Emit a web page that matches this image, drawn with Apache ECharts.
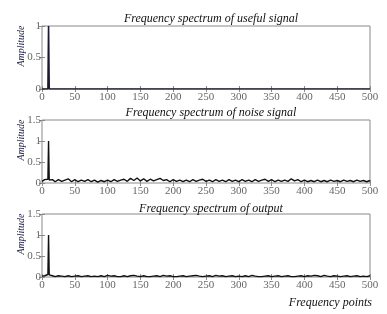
<!DOCTYPE html>
<html>
<head>
<meta charset="utf-8">
<script src="https://cdn.jsdelivr.net/npm/echarts@6/dist/echarts.min.js"></script>
<style>html,body{margin:0;padding:0;background:#fff}#c{width:387px;height:314px}</style>
</head>
<body>
<div id="c"></div>
<script>
// ---- data ----
var titles = ['Frequency spectrum of useful signal', 'Frequency spectrum of noise signal', 'Frequency spectrum of output'];
var xTicks = [0, 50, 100, 150, 200, 250, 300, 350, 400, 450, 500];

var usefulX = [0, 9, 10, 11, 500];
var usefulY = [0, 0, 1, 0, 0];

var freqX = [0, 4, 7, 9, 10, 11, 13, 16,
  20, 25, 30, 35, 40, 45, 50, 55, 60, 65,
  70, 75, 80, 85, 90, 95, 100, 105, 110, 115,
  120, 125, 130, 135, 140, 145, 150, 155, 160, 165,
  170, 175, 180, 185, 190, 195, 200, 205, 210, 215,
  220, 225, 230, 235, 240, 245, 250, 255, 260, 265,
  270, 275, 280, 285, 290, 295, 300, 305, 310, 315,
  320, 325, 330, 335, 340, 345, 350, 355, 360, 365,
  370, 375, 380, 385, 390, 395, 400, 405, 410, 415,
  420, 425, 430, 435, 440, 445, 450, 455, 460, 465,
  470, 475, 480, 485, 490, 495, 500];

var noiseY = [0.04, 0.08, 0.05, 0.09, 1.0, 0.07, 0.04, 0.08,
  0.03, 0.08, 0.04, 0.07, 0.10, 0.03, 0.08, 0.03, 0.07, 0.04,
  0.08, 0.03, 0.07, 0.02, 0.06, 0.03, 0.07, 0.03, 0.08, 0.04,
  0.07, 0.09, 0.04, 0.11, 0.06, 0.12, 0.05, 0.10, 0.04, 0.09,
  0.05, 0.08, 0.11, 0.06, 0.08, 0.03, 0.08, 0.04, 0.07, 0.03,
  0.07, 0.03, 0.08, 0.04, 0.07, 0.09, 0.04, 0.07, 0.03, 0.08,
  0.04, 0.07, 0.03, 0.08, 0.04, 0.07, 0.03, 0.08, 0.04, 0.07,
  0.03, 0.08, 0.04, 0.07, 0.09, 0.04, 0.08, 0.03, 0.07, 0.04,
  0.07, 0.04, 0.10, 0.05, 0.08, 0.03, 0.07, 0.03, 0.06, 0.03,
  0.07, 0.03, 0.06, 0.03, 0.07, 0.04, 0.06, 0.03, 0.07, 0.04,
  0.06, 0.03, 0.07, 0.04, 0.06, 0.03, 0.06];

var outputY = [0.02, 0.03, 0.02, 0.06, 1.0, 0.05, 0.02, 0.03,
  0.01, 0.03, 0.02, 0.01, 0.03, 0.01, 0.02, 0.03, 0.01, 0.02,
  0.03, 0.01, 0.02, 0.01, 0.03, 0.01, 0.04, 0.02, 0.03, 0.01,
  0.01, 0.03, 0.01, 0.03, 0.04, 0.02, 0.01, 0.03, 0.01, 0.01,
  0.02, 0.03, 0.01, 0.04, 0.02, 0.03, 0.01, 0.01, 0.02, 0.03,
  0.01, 0.02, 0.03, 0.04, 0.02, 0.01, 0.02, 0.03, 0.01, 0.04,
  0.02, 0.03, 0.01, 0.02, 0.03, 0.01, 0.02, 0.01, 0.03, 0.01,
  0.04, 0.02, 0.01, 0.01, 0.02, 0.03, 0.01, 0.02, 0.03, 0.01,
  0.02, 0.03, 0.01, 0.01, 0.02, 0.03, 0.01, 0.03, 0.02, 0.04,
  0.03, 0.01, 0.04, 0.02, 0.01, 0.03, 0.02, 0.01, 0.02, 0.03,
  0.01, 0.02, 0.03, 0.01, 0.02, 0.01, 0.03];

var yMax = [1, 1.5, 1.5];
var xName = 'Frequency points';
var yName = 'Amplitude';

// ---- build ----
function pairs(xs, ys) { return xs.map(function (x, i) { return [x, ys[i]]; }); }
var seriesData = [pairs(usefulX, usefulY), pairs(freqX, noiseY), pairs(freqX, outputY)];

var serif = '"Liberation Serif", "DejaVu Serif", serif';
var gridTops = [26, 120, 214];
var gridH = 63;
var grids = [], xAxes = [], yAxes = [], series = [], titleArr = [], graphics = [];
var axisGrey = '#8a8a8a';
for (var i = 0; i < 3; i++) {
  grids.push({ left: 42, right: 17, top: gridTops[i], height: gridH, show: true, borderColor: axisGrey, borderWidth: 1, backgroundColor: 'transparent' });
  xAxes.push({
    type: 'value', gridIndex: i, min: 0, max: 500, interval: 50, position: 'bottom',
    axisLine: { show: false }, splitLine: { show: false },
    axisTick: { inside: true, length: 3, lineStyle: { color: axisGrey } },
    axisLabel: { margin: 3, fontFamily: serif, fontSize: 11, color: '#666' }
  });
  xAxes.push({
    type: 'value', gridIndex: i, min: 0, max: 500, interval: 50, position: 'top',
    axisLine: { show: false }, splitLine: { show: false },
    axisTick: { inside: true, length: 3, lineStyle: { color: axisGrey } },
    axisLabel: { show: false }
  });
  yAxes.push({
    type: 'value', gridIndex: i, min: 0, max: yMax[i], interval: 0.5, position: 'left',
    axisLine: { show: false }, splitLine: { show: false },
    axisTick: { inside: true, length: 3, lineStyle: { color: axisGrey } },
    axisLabel: { margin: 1, fontFamily: serif, fontSize: 11, color: '#666' }
  });
  yAxes.push({
    type: 'value', gridIndex: i, min: 0, max: yMax[i], interval: 0.5, position: 'right',
    axisLine: { show: false }, splitLine: { show: false },
    axisTick: { inside: true, length: 3, lineStyle: { color: axisGrey } },
    axisLabel: { show: false }
  });
  series.push({
    type: 'line', xAxisIndex: i * 2, yAxisIndex: i * 2, data: seriesData[i],
    showSymbol: false, symbol: 'none', animation: false,
    lineStyle: { color: i === 0 ? '#1a1a2e' : '#111', width: i === 0 ? 1.6 : 1.4 }
  });
  graphics.push({
    type: 'text', x: 21, y: gridTops[i] + 20, rotation: Math.PI / 2,
    style: { text: yName, fontFamily: serif, fontStyle: 'italic', fontSize: 10, fill: '#1c1f4a', align: 'center', verticalAlign: 'middle' }
  });
}
titleArr = [
  { text: titles[0], left: 206, top: 8, textAlign: 'center' },
  { text: titles[1], left: 206, top: 102, textAlign: 'center' },
  { text: titles[2], left: 206, top: 198, textAlign: 'center' },
  { text: xName, right: 10, top: 292 }
].map(function (t) {
  t.textStyle = { fontFamily: serif, fontStyle: 'italic', fontWeight: 'normal', fontSize: 12, color: '#111' };
  return t;
});

var chart = echarts.init(document.getElementById('c'), null, { renderer: 'canvas' });
chart.setOption({
  animation: false,
  backgroundColor: '#fff',
  title: titleArr,
  grid: grids,
  xAxis: xAxes,
  yAxis: yAxes,
  graphic: graphics,
  series: series
});
</script>
</body>
</html>
